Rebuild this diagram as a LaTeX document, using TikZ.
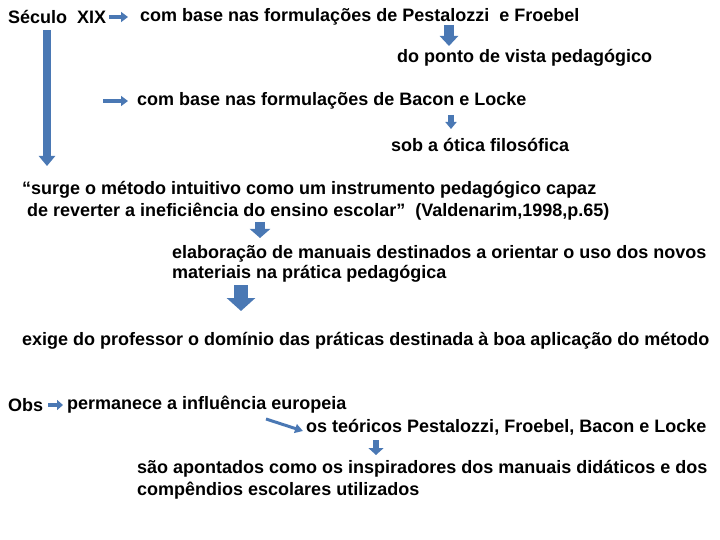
\documentclass[tikz,border=0pt]{standalone}
\usepackage{fontspec}
\setmainfont{Liberation Sans}
\usetikzlibrary{arrows.meta}
\definecolor{arrowfill}{HTML}{4A78B4}

\begin{document}
\begin{tikzpicture}[x=1pt, y=-1pt,
  txt/.style={anchor=west, inner sep=0pt, align=left, font=\bfseries\fontsize{18}{21}\selectfont},
  blk/.style n args={3}{draw=arrowfill, line width=#1, -{Triangle[width=#2, length=#3, fill=arrowfill]}}]

\useasboundingbox (0,0) rectangle (720,540);

\node[txt] at (8,17) (sec) {Século\ \ XIX};
\node[txt] at (140,17) (pest) {com base nas formulações de Pestalozzi\ \ e Froebel};
\node[txt] at (397,58) (ponto) {do ponto de vista pedagógico};
\node[txt] at (137,101) (bacon) {com base nas formulações de Bacon e Locke};
\node[txt] at (391,145) (sob) {sob a ótica filosófica};
\node[txt, anchor=north west] at (22,181) (quote) {“surge o método intuitivo como um instrumento pedagógico capaz\\[1pt]
\hspace{5pt}de reverter a ineficiência do ensino escolar”\ \ (Valdenarim,1998,p.65)};
\node[txt, anchor=north west] at (172,245) (manuais) {elaboração de manuais destinados a orientar o uso dos novos\\[-1pt]
materiais na prática pedagógica};
\node[txt] at (22,341) (exige) {exige do professor o domínio das práticas destinada à boa aplicação do método};
\node[txt] at (8,405) (obs) {Obs};
\node[txt] at (67,405) (perm) {permanece a influência europeia};
\node[txt] at (306,427) (teor) {os teóricos Pestalozzi, Froebel, Bacon e Locke};
\node[txt, anchor=north west] at (137,460) (sao) {são apontados como os inspiradores dos manuais didáticos e dos\\[1pt]
compêndios escolares utilizados};

\coordinate (top) at (47,30);
\coordinate (bot) at (47,166);
\coordinate (b1) at (103,101);

\draw[blk={4pt}{10pt}{7pt}] ([xshift=3pt]sec.east) -- ([xshift=-12pt]pest.west);
\draw[blk={10pt}{18pt}{10pt}] (449,25) -- (449,46);
\draw[blk={8pt}{16pt}{10pt}] (top) -- (bot);
\draw[blk={4pt}{10pt}{7pt}] (b1) -- ([xshift=-9pt]bacon.west);
\draw[blk={6pt}{11pt}{7pt}] (451,115) -- (451,129);
\draw[blk={10pt}{20pt}{9pt}] (260,222) -- (260,238);
\draw[blk={14pt}{28pt}{13pt}] (241,285) -- (241,311);
\draw[blk={4pt}{10pt}{6pt}] ([xshift=5pt]obs.east) -- ([xshift=-4pt]perm.west);
\draw[blk={3pt}{9pt}{8pt}] (266,419) -- (303,431);
\draw[blk={6pt}{15pt}{7pt}] (376,440) -- (376,455);

\end{tikzpicture}
\end{document}
